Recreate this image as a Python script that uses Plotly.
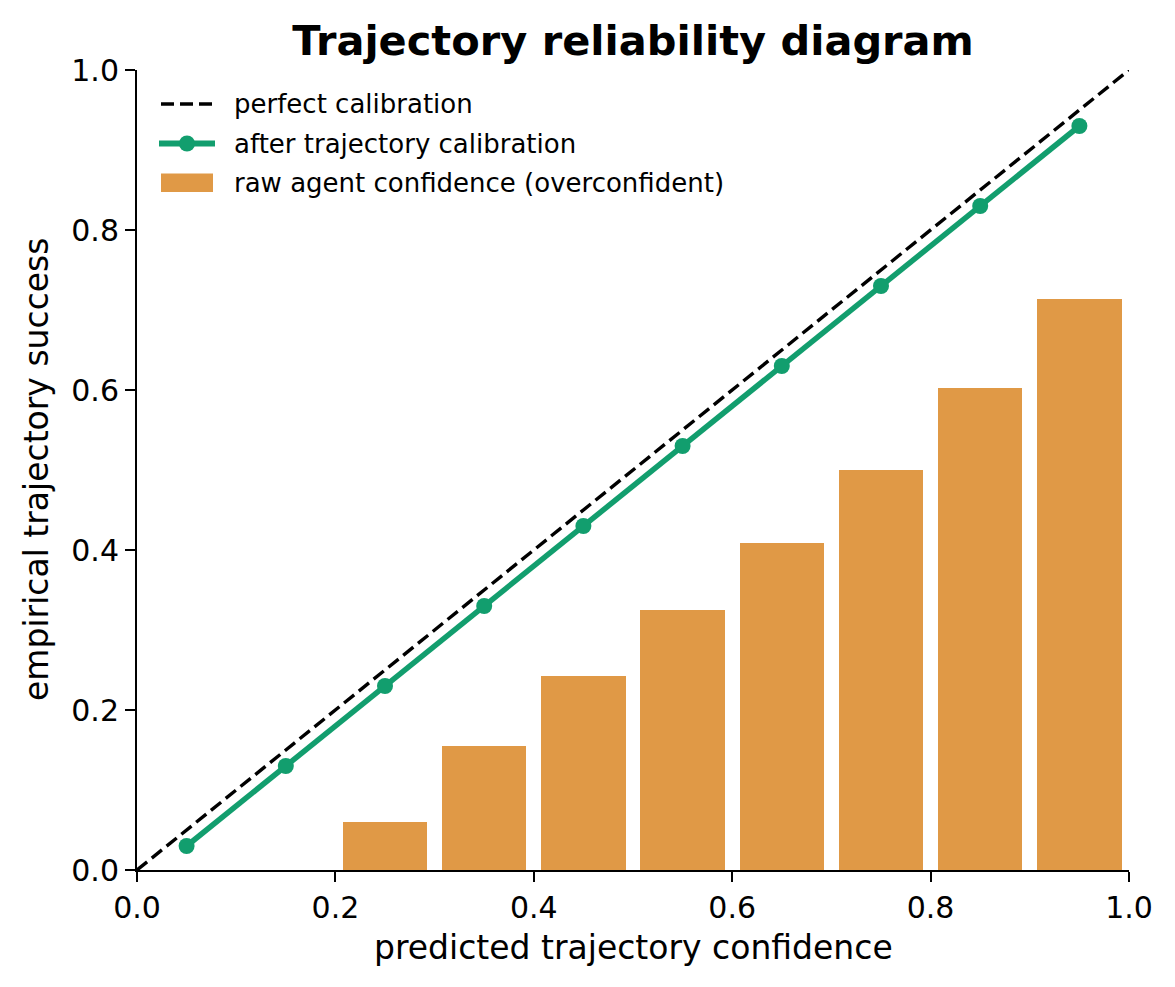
import plotly.graph_objects as go

bin_centers = [0.05, 0.15, 0.25, 0.35, 0.45, 0.55, 0.65, 0.75, 0.85, 0.95]
raw_accuracy = [0.0, 0.0, 0.06, 0.155, 0.2425, 0.325, 0.409, 0.50, 0.6025, 0.714]
calibrated_accuracy = [0.03, 0.13, 0.23, 0.33, 0.43, 0.53, 0.63, 0.73, 0.83, 0.93]
diag = [0.0, 1.0]
tick_vals = [0.0, 0.2, 0.4, 0.6, 0.8, 1.0]
tick_text = ["0.0", "0.2", "0.4", "0.6", "0.8", "1.0"]
legend_labels = ["perfect calibration", "after trajectory calibration", "raw agent confidence (overconfident)"]

FONT = "DejaVu Sans"
ORANGE = "#E09946"
GREEN = "#129E6E"
W, H = 1175, 987
L, R, T, B = 137, 1129, 70, 870


def px(x):
    return (x - L) / (R - L)


def py(y):
    return (B - y) / (B - T)


fig = go.Figure()
fig.add_trace(go.Bar(
    x=bin_centers, y=raw_accuracy, width=0.085,
    marker=dict(color=ORANGE, line=dict(width=0)),
    name=legend_labels[2],
))
fig.add_trace(go.Scatter(
    x=diag, y=diag, mode="lines",
    line=dict(color="black", width=3.4, dash="13px,6px"),
    name=legend_labels[0],
))
fig.add_trace(go.Scatter(
    x=bin_centers, y=calibrated_accuracy, mode="lines+markers",
    line=dict(color=GREEN, width=5.5),
    marker=dict(color=GREEN, size=16),
    name=legend_labels[1], cliponaxis=False,
))

axis_common = dict(
    range=[0, 1], tickvals=tick_vals, ticktext=tick_text,
    showgrid=False, zeroline=False, showline=True, linecolor="black", linewidth=2,
    ticks="outside", ticklen=10, tickwidth=2, tickcolor="black",
    tickfont=dict(family=FONT, size=30, color="black"),
)

# manual legend (matplotlib-like handles)
shapes = [
    dict(type="line", xref="paper", yref="paper", x0=px(161), x1=px(213), y0=py(104), y1=py(104),
         line=dict(color="black", width=3.4, dash="13px,6px")),
    dict(type="line", xref="paper", yref="paper", x0=px(159), x1=px(215), y0=py(143.5), y1=py(143.5),
         line=dict(color=GREEN, width=6)),
    dict(type="circle", xref="paper", yref="paper", x0=px(179), x1=px(195), y0=py(135.5), y1=py(151.5),
         fillcolor=GREEN, line=dict(width=0)),
    dict(type="rect", xref="paper", yref="paper", x0=px(161), x1=px(213), y0=py(173.5), y1=py(192),
         fillcolor=ORANGE, line=dict(width=0)),
]
annotations = []
for lbl, yc in zip(legend_labels, [104, 143.5, 183]):
    annotations.append(dict(text=lbl, xref="paper", yref="paper", x=px(232), y=py(yc),
                            xanchor="left", yanchor="middle", showarrow=False,
                            font=dict(family=FONT, size=26, color="black")))
annotations.append(dict(text="predicted trajectory confidence", xref="paper", yref="paper",
                        x=0.5, y=py(948), xanchor="center", yanchor="middle", showarrow=False,
                        font=dict(family=FONT, size=33, color="black")))
annotations.append(dict(text="empirical trajectory success", xref="paper", yref="paper",
                        x=px(36), y=0.5, xanchor="center", yanchor="middle", showarrow=False, textangle=-90,
                        font=dict(family=FONT, size=33, color="black")))

fig.update_layout(
    width=W, height=H,
    margin=dict(l=L, r=W - R, t=T, b=H - B),
    paper_bgcolor="white", plot_bgcolor="white",
    font=dict(family=FONT, color="black"),
    title=dict(text="<b>Trajectory reliability diagram</b>", x=(L + R) / 2 / W, xanchor="center",
               y=1 - 40 / H, yanchor="middle", font=dict(family=FONT, size=41.5, color="black")),
    xaxis=dict(**axis_common),
    yaxis=dict(**axis_common),
    bargap=0,
    showlegend=False,
    shapes=shapes,
    annotations=annotations,
)

fig.write_html("out.html")
